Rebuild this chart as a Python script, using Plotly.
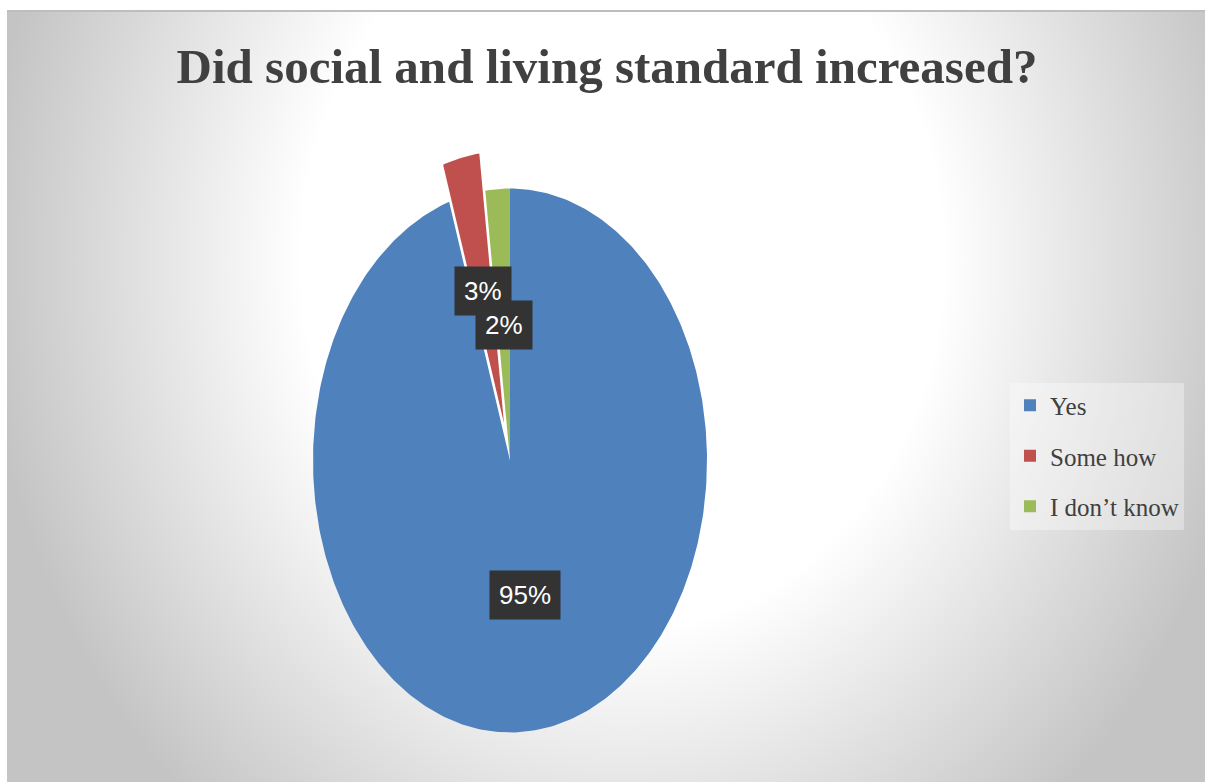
import base64
import numpy as np
import plotly.graph_objects as go

# ---- data ----
categories = ["Yes", "Some how", "I don\u2019t know"]
values = [95, 3, 2]
labels = ["95%", "3%", "2%"]
colors = ["#4F81BD", "#C0504D", "#9BBB59"]
pulls = [0.0, 0.14, 0.0]

W, H = 1205, 782
# pie geometry in pixels (horizontally squeezed pie -> ellipse)
CX, CY, RX, RY = 510, 460.5, 197, 272

fig = go.Figure()

total = float(sum(values))
start = 0.0
label_pos = []
for cat, val, col, pull, lab in zip(categories, values, colors, pulls, labels):
    a0 = start / total * 2 * np.pi
    a1 = (start + val) / total * 2 * np.pi
    mid = (a0 + a1) / 2
    ox, oy = pull * np.sin(mid), pull * np.cos(mid)
    th = np.linspace(a0, a1, max(int(val * 4), 12))
    xs = np.concatenate([[ox], ox + np.sin(th), [ox]])
    ys = np.concatenate([[oy], oy + np.cos(th), [oy]])
    fig.add_trace(go.Scatter(
        x=xs, y=ys, mode="lines", fill="toself", fillcolor=col,
        line=dict(width=0, color=col), showlegend=False, hoverinfo="text",
        text=f"{cat}: {lab}", name=cat))
    label_pos.append((ox + 0.5 * np.sin(mid), oy + 0.5 * np.cos(mid), lab))
    start += val

# legend entries
for cat, col in zip(categories, colors):
    fig.add_trace(go.Scatter(
        x=[None], y=[None], mode="markers", name=cat, legendgroup=cat,
        marker=dict(symbol="square", size=12, color=col)))

for x, y, lab in label_pos:
    fig.add_annotation(
        x=x, y=y, xref="x", yref="y", text=lab, showarrow=False,
        font=dict(family="Liberation Sans Narrow, Arial Narrow, Liberation Sans, sans-serif",
                  size=26, color="white"),
        bgcolor="#333333", borderpad=9)

# background gradient (svg data uri)
svg = (
    "<svg xmlns='http://www.w3.org/2000/svg' width='1198' height='772' viewBox='0 0 1198 772'>"
    "<defs><radialGradient id='g' gradientUnits='userSpaceOnUse' cx='615' cy='250' r='640' "
    "gradientTransform='translate(615 250) scale(1 1.15) translate(-615 -250)'>"
    "<stop offset='0' stop-color='#ffffff'/><stop offset='0.5' stop-color='#ffffff'/>"
    "<stop offset='1' stop-color='#c4c4c4'/></radialGradient></defs>"
    "<rect width='1198' height='772' fill='url(#g)'/>"
    "<rect width='1198' height='2' fill='#bdbdbd'/></svg>"
)
src = "data:image/svg+xml;base64," + base64.b64encode(svg.encode()).decode()

fig.update_layout(
    width=W, height=H,
    margin=dict(l=0, r=0, t=0, b=0),
    paper_bgcolor="white", plot_bgcolor="rgba(0,0,0,0)",
    images=[dict(source=src, xref="paper", yref="paper",
                 x=7 / W, y=1 - 10 / H, sizex=1198 / W, sizey=772 / H,
                 xanchor="left", yanchor="top", sizing="stretch", layer="below")],
    xaxis=dict(range=[-CX / RX, (W - CX) / RX], visible=False, fixedrange=True),
    yaxis=dict(range=[(CY - H) / RY, CY / RY], visible=False, fixedrange=True),
    title=dict(text="<b>Did social and living standard increased?</b>",
               x=607 / W, xanchor="center", y=1 - 66 / H, yanchor="middle",
               font=dict(family="Liberation Serif, Times New Roman, serif",
                         size=49, color="#404040")),
    legend=dict(x=1010 / W, xanchor="left", y=1 - 456 / H, yanchor="middle",
                bgcolor="rgba(255,255,255,0.35)", tracegroupgap=15,
                font=dict(family="Liberation Serif, Times New Roman, serif",
                          size=25, color="#404040")),
    showlegend=True,
)

fig.write_html("out.html")
